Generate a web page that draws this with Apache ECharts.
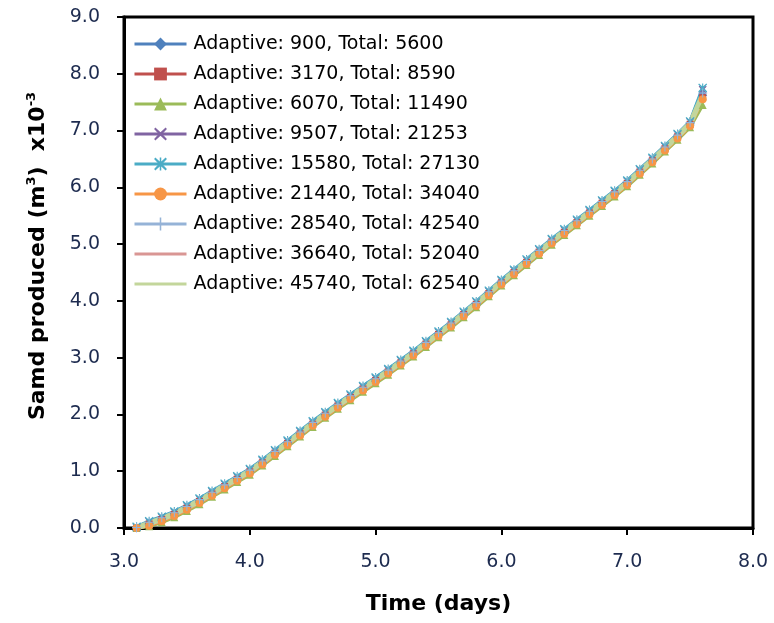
<!DOCTYPE html>
<html>
<head>
<meta charset="utf-8">
<script src="https://cdn.jsdelivr.net/npm/echarts@6/dist/echarts.min.js"></script>
<style>
  html, body { margin: 0; padding: 0; background: #fff; }
  #chart { width: 774px; height: 623px; }
</style>
</head>
<body>
<div id="chart"></div>
<script>
// Time in days (x axis)
const days = [3.1,3.2,3.3,3.4,3.5,3.6,3.7,3.8,3.9,
              4.0,4.1,4.2,4.3,4.4,4.5,4.6,4.7,4.8,4.9,
              5.0,5.1,5.2,5.3,5.4,5.5,5.6,5.7,5.8,5.9,
              6.0,6.1,6.2,6.3,6.4,6.5,6.6,6.7,6.8,6.9,
              7.0,7.1,7.2,7.3,7.4,7.5,7.6];

// Sand produced (m^3 x10^-3) per refinement case
const s900 = [0.00,0.08,0.16,0.25,0.36,0.48,0.61,0.74,0.87, 1.00,1.16,1.33,1.50,1.67,1.84,2.00,2.16,2.31,2.46, 2.61,2.76,2.92,3.08,3.25,3.42,3.59,3.77,3.95,4.14, 4.33,4.51,4.69,4.87,5.05,5.22,5.39,5.56,5.73,5.90, 6.08,6.28,6.48,6.69,6.90,7.12,7.62];
const s3170 = [0.00,0.07,0.15,0.24,0.35,0.47,0.60,0.73,0.86, 0.99,1.15,1.32,1.49,1.66,1.83,1.99,2.15,2.30,2.45, 2.60,2.75,2.91,3.07,3.24,3.41,3.58,3.76,3.94,4.13, 4.32,4.50,4.68,4.86,5.04,5.21,5.38,5.55,5.72,5.89, 6.07,6.27,6.47,6.68,6.89,7.11,7.58];
const s6070 = [0.00,0.03,0.10,0.19,0.30,0.42,0.55,0.68,0.81, 0.94,1.10,1.27,1.44,1.61,1.78,1.94,2.10,2.25,2.40, 2.55,2.70,2.86,3.02,3.19,3.36,3.53,3.71,3.89,4.08, 4.27,4.45,4.63,4.81,4.99,5.16,5.33,5.50,5.67,5.84, 6.02,6.22,6.42,6.63,6.84,7.06,7.45];
const s9507 = [0.01,0.11,0.19,0.28,0.39,0.51,0.64,0.77,0.90, 1.03,1.19,1.36,1.53,1.70,1.87,2.03,2.19,2.34,2.49, 2.64,2.79,2.95,3.11,3.28,3.45,3.62,3.80,3.98,4.17, 4.36,4.54,4.72,4.90,5.08,5.25,5.42,5.59,5.76,5.93, 6.11,6.31,6.51,6.72,6.93,7.15,7.72];
const s15580 = [0.02,0.12,0.20,0.29,0.40,0.52,0.65,0.78,0.91, 1.04,1.20,1.37,1.54,1.71,1.88,2.04,2.20,2.35,2.50, 2.65,2.80,2.96,3.12,3.29,3.46,3.63,3.81,3.99,4.18, 4.37,4.55,4.73,4.91,5.09,5.26,5.43,5.60,5.77,5.94, 6.12,6.32,6.52,6.73,6.94,7.16,7.75];
const s21440 = [0.00,0.04,0.12,0.21,0.32,0.44,0.57,0.70,0.83, 0.96,1.12,1.29,1.46,1.63,1.80,1.96,2.12,2.27,2.42, 2.57,2.72,2.88,3.04,3.21,3.38,3.55,3.73,3.91,4.10, 4.29,4.47,4.65,4.83,5.01,5.18,5.35,5.52,5.69,5.86, 6.04,6.24,6.44,6.65,6.86,7.08,7.55];
const s28540 = [0.01,0.10,0.18,0.27,0.38,0.50,0.63,0.76,0.89, 1.02,1.18,1.35,1.52,1.69,1.86,2.02,2.18,2.33,2.48, 2.63,2.78,2.94,3.10,3.27,3.44,3.61,3.79,3.97,4.16, 4.35,4.53,4.71,4.89,5.07,5.24,5.41,5.58,5.75,5.92, 6.10,6.30,6.50,6.71,6.92,7.14,7.66];
const s36640 = [0.00,0.06,0.14,0.23,0.34,0.46,0.59,0.72,0.85, 0.98,1.14,1.31,1.48,1.65,1.82,1.98,2.14,2.29,2.44, 2.59,2.74,2.90,3.06,3.23,3.40,3.57,3.75,3.93,4.12, 4.31,4.49,4.67,4.85,5.03,5.20,5.37,5.54,5.71,5.88, 6.06,6.26,6.46,6.67,6.88,7.10,7.60];
const s45740 = [0.00,0.08,0.16,0.25,0.36,0.48,0.61,0.74,0.87, 1.00,1.16,1.33,1.50,1.67,1.84,2.00,2.16,2.31,2.46, 2.61,2.76,2.92,3.08,3.25,3.42,3.59,3.77,3.95,4.14, 4.33,4.51,4.69,4.87,5.05,5.22,5.39,5.56,5.73,5.90, 6.08,6.28,6.48,6.69,6.90,7.12,7.62];

const seriesNames = [
  'Adaptive: 900, Total: 5600',
  'Adaptive: 3170, Total: 8590',
  'Adaptive: 6070, Total: 11490',
  'Adaptive: 9507, Total: 21253',
  'Adaptive: 15580, Total: 27130',
  'Adaptive: 21440, Total: 34040',
  'Adaptive: 28540, Total: 42540',
  'Adaptive: 36640, Total: 52040',
  'Adaptive: 45740, Total: 62540'
];
const seriesValues = [s900, s3170, s6070, s9507, s15580, s21440, s28540, s36640, s45740];

// Axis tick values
const xTicks = [3, 4, 5, 6, 7, 8];
const yTicks = [0, 1, 2, 3, 4, 5, 6, 7, 8, 9];

// Marker shapes
const crossPath = 'path://M1,0 L5,3.6 L9,0 L10,1 L6.4,5 L10,9 L9,10 L5,6.4 L1,10 L0,9 L3.6,5 L0,1 Z';
const plusPath = 'path://M4.4,0 H5.6 V4.4 H10 V5.6 H5.6 V10 H4.4 V5.6 H0 V4.4 H4.4 Z';
const starPath = 'path://M1,0 L5,3.6 L9,0 L10,1 L6.4,5 L10,9 L9,10 L5,6.4 L1,10 L0,9 L3.6,5 L0,1 Z M4.4,0 H5.6 V10 H4.4 Z';

// Line colour, marker shape and size; the last two cases are plain lines
const styles = [
  { color: '#4F81BD', symbol: 'diamond', size: 9, marker: true },
  { color: '#C0504D', symbol: 'rect', size: 7, marker: true },
  { color: '#9BBB59', symbol: 'triangle', size: 8, marker: true },
  { color: '#8064A2', symbol: crossPath, size: 8, marker: true },
  { color: '#4BACC6', symbol: starPath, size: 9, marker: true },
  { color: '#F79646', symbol: 'circle', size: 8, marker: true },
  { color: '#95B3D7', symbol: plusPath, size: 9, marker: true },
  { color: '#D99694', symbol: 'circle', size: 0, marker: false },
  { color: '#C3D69B', symbol: 'circle', size: 0, marker: false }
];

const fontFam = '"DejaVu Sans", Verdana, sans-serif';
const labelColor = '#1d2b4f';

const series = seriesNames.map((name, i) => ({
  name: name,
  type: 'line',
  data: days.map((d, k) => [d, seriesValues[i][k]]),
  symbol: styles[i].symbol,
  symbolSize: styles[i].size,
  showSymbol: styles[i].marker,
  lineStyle: { color: styles[i].color, width: i === 8 ? 5.5 : 3.5 },
  itemStyle: { color: styles[i].marker ? styles[i].color : 'rgba(0,0,0,0)' },
  emphasis: { disabled: true },
  animation: false
}));

const chart = echarts.init(document.getElementById('chart'));
chart.setOption({
  animation: false,
  backgroundColor: '#fff',
  grid: {
    left: 124, right: 21, top: 17, bottom: 95,
    show: true, borderColor: '#000', borderWidth: 3, backgroundColor: 'transparent'
  },
  legend: {
    left: 128, top: 29,
    orient: 'vertical',
    itemWidth: 52, itemHeight: 16, itemGap: 10,
    lineStyle: { width: 3 },
    textStyle: { fontFamily: fontFam, fontSize: 19, lineHeight: 20, color: '#000', padding: [0, 0, 0, 2] },
    data: seriesNames
  },
  xAxis: {
    type: 'value',
    min: xTicks[0], max: xTicks[xTicks.length - 1], interval: 1,
    name: 'Time (days)',
    nameLocation: 'middle', nameGap: 65,
    nameTextStyle: { fontFamily: fontFam, fontSize: 22, fontWeight: 'bold', color: '#000' },
    axisLine: { lineStyle: { color: '#000', width: 3 } },
    axisTick: { show: true, inside: false, length: 7, lineStyle: { color: '#000', width: 2 } },
    axisLabel: { fontFamily: fontFam, fontSize: 19, color: labelColor, margin: 25, formatter: v => v.toFixed(1) },
    splitLine: { show: false }
  },
  yAxis: {
    type: 'value',
    min: yTicks[0], max: yTicks[yTicks.length - 1], interval: 1,
    name: '{t|Samd produced (m}{s|3}{t|)  x10}{s|-3}',
    nameLocation: 'middle', nameGap: 72,
    nameTextStyle: {
      padding: [0, 0, 0, 33],
      rich: {
        t: { fontFamily: fontFam, fontSize: 22, fontWeight: 'bold', color: '#000', lineHeight: 27 },
        s: { fontFamily: fontFam, fontSize: 13, fontWeight: 'bold', color: '#000', verticalAlign: 'top', lineHeight: 27, padding: [0, 0, 12, 0] }
      }
    },
    axisLine: { lineStyle: { color: '#000', width: 3 } },
    axisTick: { show: true, inside: false, length: 7, lineStyle: { color: '#000', width: 2 } },
    axisLabel: { fontFamily: fontFam, fontSize: 19, color: labelColor, margin: 24, formatter: v => v.toFixed(1) },
    splitLine: { show: false }
  },
  series: series
});
</script>
</body>
</html>
